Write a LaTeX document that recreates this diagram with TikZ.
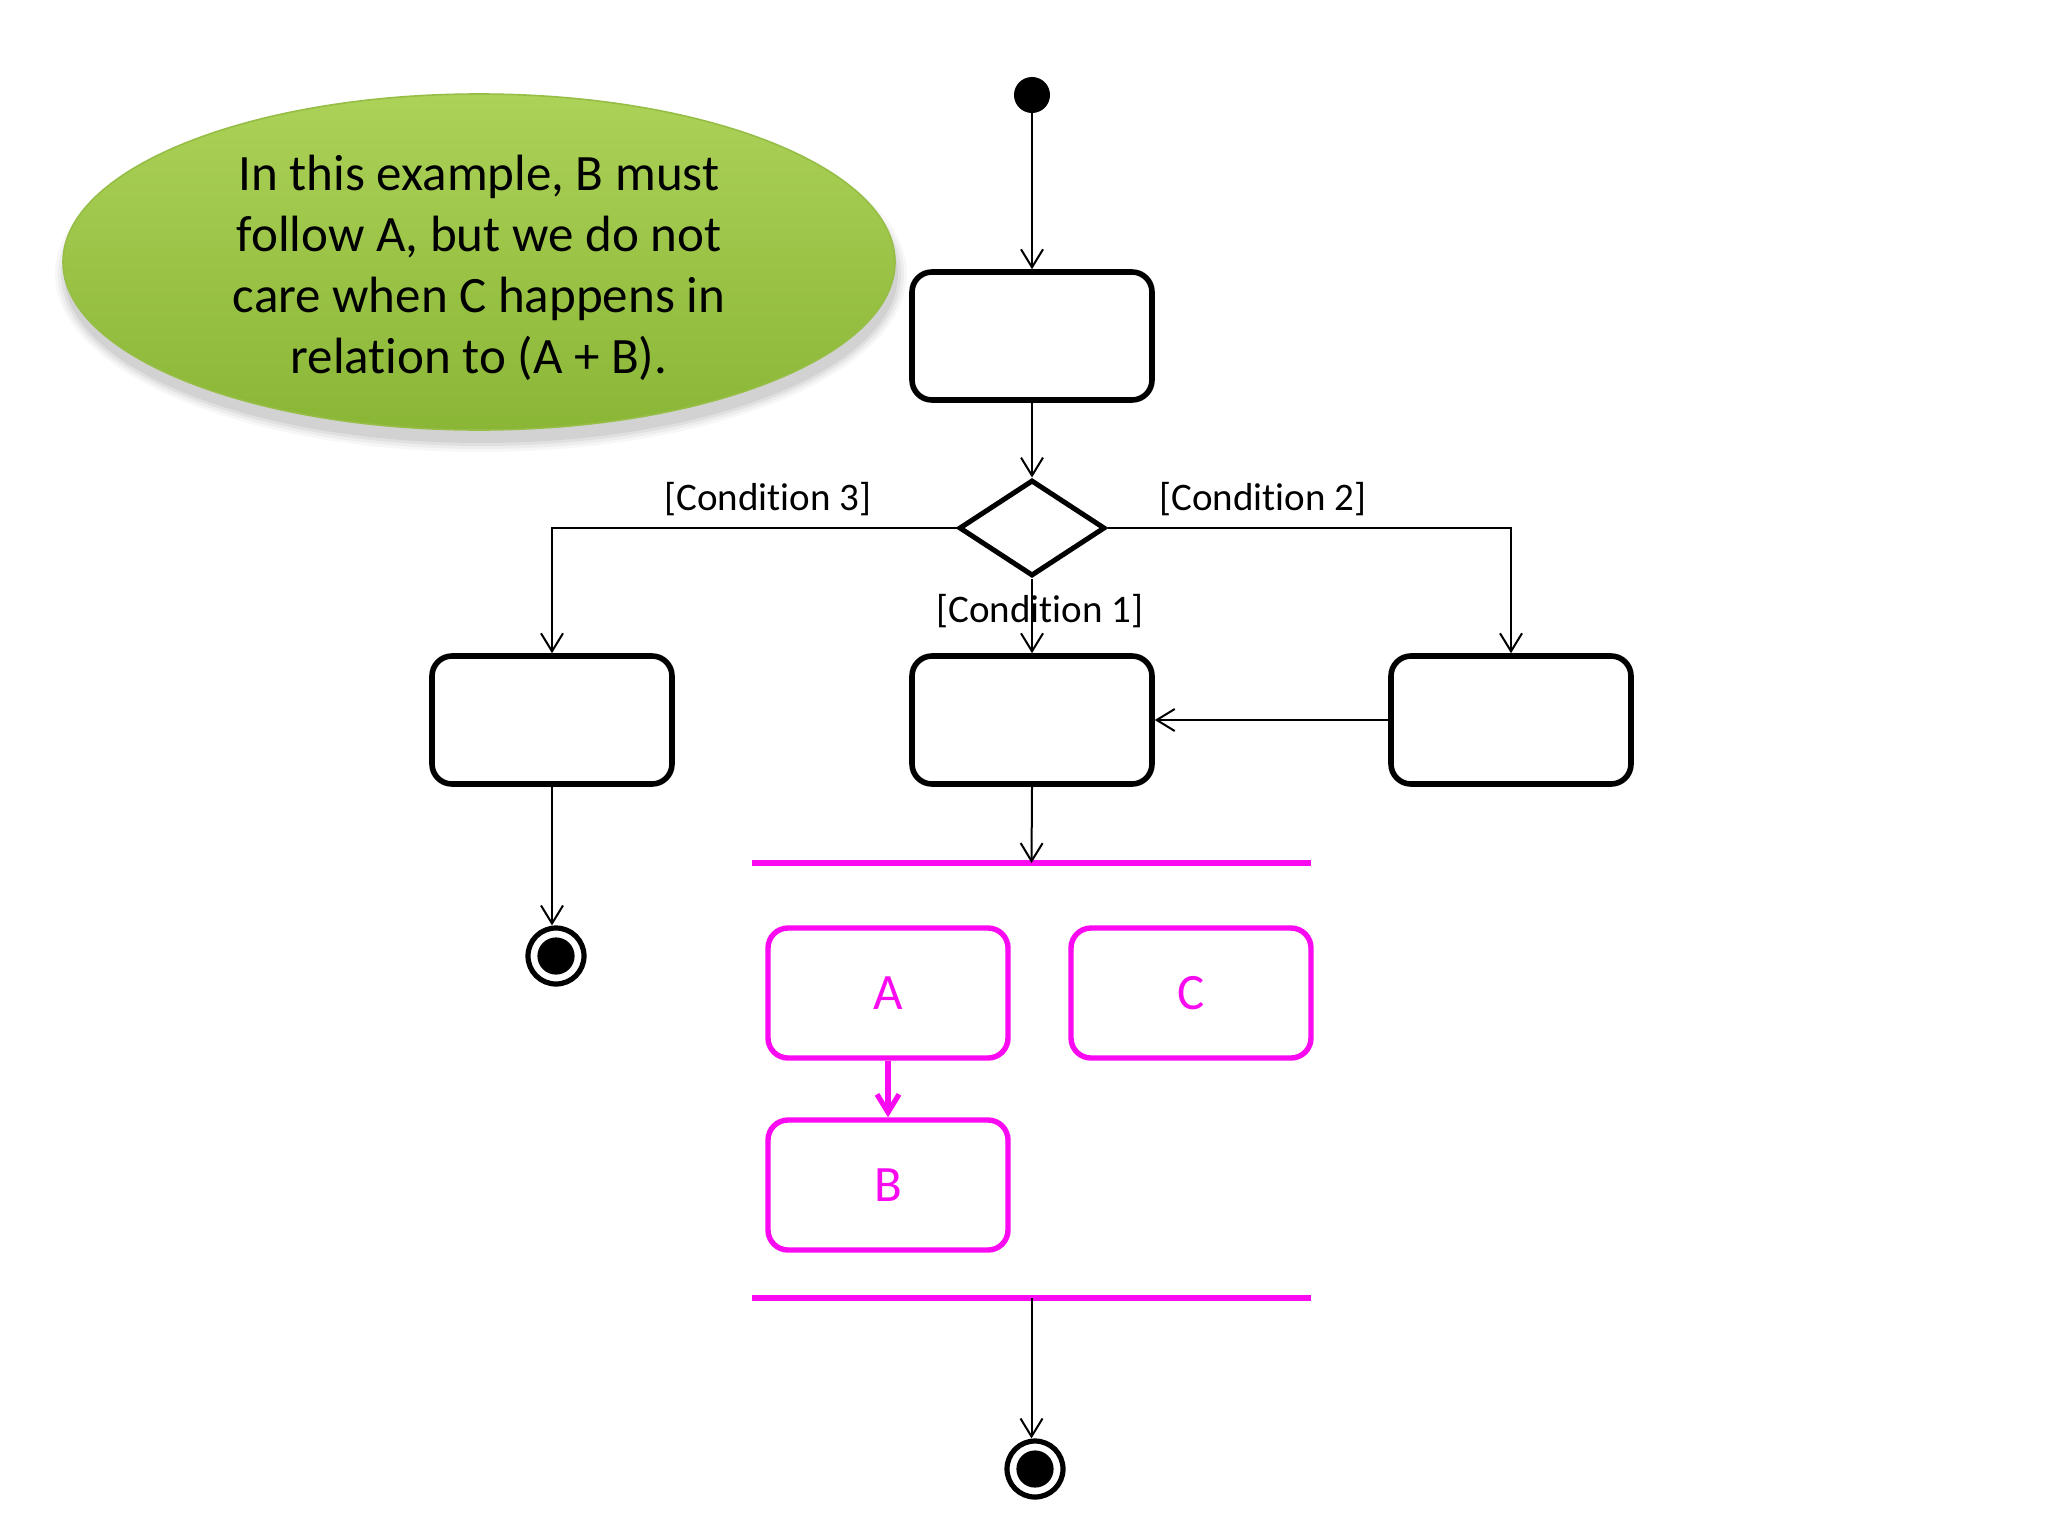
\documentclass[tikz,border=0pt]{standalone}
\usepackage{fontspec}
\setmainfont[Ligatures=NoCommon]{Carlito}
\usetikzlibrary{arrows.meta,shapes.geometric}
\definecolor{mag}{RGB}{250,10,240}
\definecolor{gtop}{RGB}{172,210,88}
\definecolor{gbot}{RGB}{138,182,54}
\definecolor{gedge}{RGB}{150,190,70}
\newcommand{\nlt}{t\kern0pt i}
\tikzset{
  actbox/.style={draw=black,line width=2.8pt,rounded corners=10pt,minimum width=120pt,minimum height=64pt,inner sep=0pt},
  magbox/.style={draw=mag,line width=2.7pt,rounded corners=10pt,minimum width=120pt,minimum height=65pt,inner sep=0pt,text=mag,font=\fontsize{25.5}{30}\selectfont},
  decision/.style={draw=black,line width=2.5pt,diamond,minimum width=73pt,minimum height=48pt,inner sep=0pt},
  initdot/.style={circle,fill=black,minimum size=18pt,inner sep=0pt},
  finalnode/.style={circle,draw=black,line width=2.6pt,minimum size=28pt,inner sep=0pt,
     path picture={\fill[black] (path picture bounding box.center) circle (9.3pt);}},
  bar/.style={fill=mag,minimum width=279.5pt,minimum height=3pt,inner sep=0pt},
  arr/.style={draw=black,line width=1pt,-{Straight Barb[length=9pt,width=11pt,line width=1pt]}},
  marr/.style={draw=mag,line width=2.6pt,-{Straight Barb[length=9pt,width=11pt,line width=2.6pt]}},
  cond/.style={font=\fontsize{19.5}{23}\selectfont,inner sep=0pt},
  note/.style={ellipse,minimum width=416pt,minimum height=168pt,inner sep=0pt},
  notetext/.style={align=center,inner sep=0pt,font=\fontsize{25.5}{30.5}\selectfont},
}
\begin{document}
\begin{tikzpicture}[x=0.5pt,y=-0.5pt]
\useasboundingbox[fill=white] (0,0) rectangle (2048,1536);
% shadow of note
\foreach \k/\op in {10/0.03,7/0.04,4/0.05,1/0.06}{
  \fill[black,opacity=\op] (481,274) ellipse ({(416+\k)*0.5pt} and {(168+\k)*0.5pt});
}
\node[note,top color=gtop,bottom color=gbot,draw=gedge,line width=0.8pt] (note) at (479,262) {};
\node[notetext] (notetxt) at (479,268)
  {In this example, B must\\follow A, but we do not\\care when C happens in\\rela\nlt on to (A + B).};

\node[initdot] (init) at (1032,95) {};
\node[actbox] (b1) at (1032,336) {};
\node[decision] (dec) at (1032,528) {};
\node[actbox] (bl) at (552,720) {};
\node[actbox] (bm) at (1032,720) {};
\node[actbox] (br) at (1511,720) {};
\node[finalnode] (fin1) at (556,956) {};
\node[bar] (fork) at (1031.5,863) {};
\node[magbox] (A) at (888,993) {A};
\node[magbox] (C) at (1191,993) {C};
\node[magbox] (B) at (888,1185) {B};
\node[bar] (join) at (1031.5,1298) {};
\node[finalnode] (fin2) at (1035,1469) {};

\node[cond] (c3) at (768,499) {[Condi\nlt on 3]};
\node[cond] (c2) at (1263,499) {[Condi\nlt on 2]};
\node[cond] (c1) at (1040,611) {[Condi\nlt on 1]};

\draw[arr] (init) -- (b1.north);
\draw[arr] (b1.south) -- (dec.north);
\draw[arr] (dec.west) -| (bl.north);
\draw[arr] (dec.east) -| (br.north);
\draw[arr] (dec.south) -- (bm.north);
\draw[arr] (br.west) -- (bm.east);
\draw[arr] (bl.south) -- (bl.south |- fin1.north);
\draw[arr] (bm.south) -- (fork.center);
\draw[marr] (A.south) -- (B.north);
\draw[arr] (join.center) -- (join.center |- fin2.north);
\end{tikzpicture}
\end{document}
